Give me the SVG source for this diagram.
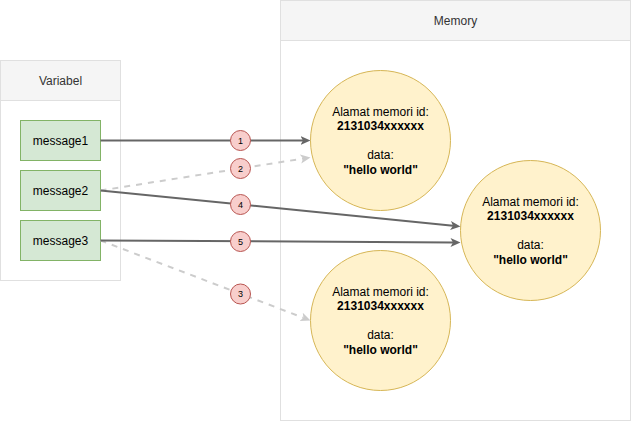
<svg xmlns="http://www.w3.org/2000/svg" width="631" height="421" viewBox="0 0 631 421">
<style>
  text { font-family: "Liberation Sans", Arial, sans-serif; }
  .hdr { fill: #f5f5f5; stroke: #e0e0e0; stroke-width: 1; }
  .body { fill: #ffffff; stroke: #e0e0e0; stroke-width: 1; }
  .htxt { font-size: 12px; fill: #333333; text-anchor: middle; }
  .var { fill: #d5e8d4; stroke: #82b366; stroke-width: 1; }
  .vtxt { font-size: 12px; fill: #000000; text-anchor: middle; }
  .mem { fill: #fff2cc; stroke: #d6b656; stroke-width: 1; }
  .mtxt { font-size: 12px; fill: #000000; text-anchor: middle; }
  .b { font-weight: bold; }
  .solid { fill: none; stroke: #666666; stroke-width: 2; marker-end: url(#arrDark); }
  .dash { fill: none; stroke: #cccccc; stroke-width: 2; stroke-dasharray: 6 6; marker-end: url(#arrLight); }
  .lbl { fill: #f8cecc; stroke: #b85450; stroke-width: 1; }
  .ltxt { font-size: 9px; fill: #000000; text-anchor: middle; }
</style>
<defs>
  <marker id="arrDark" markerUnits="userSpaceOnUse" markerWidth="12" markerHeight="10" refX="2.5" refY="5" orient="auto">
    <path d="M10,5 L0,0.5 L2.5,5 L0,9.5 Z" fill="#666666" stroke="none"/>
  </marker>
  <marker id="arrLight" markerUnits="userSpaceOnUse" markerWidth="12" markerHeight="10" refX="2.5" refY="5" orient="auto">
    <path d="M10,5 L0,0.5 L2.5,5 L0,9.5 Z" fill="#cccccc" stroke="none"/>
  </marker>
</defs>
<rect width="631" height="421" fill="#ffffff"/>

<g id="memory-container">
  <rect class="body" x="280.5" y="0.5" width="350" height="420"/>
  <rect class="hdr" x="280.5" y="0.5" width="350" height="40"/>
  <text class="htxt" x="455.5" y="24.5">Memory</text>
</g>

<g id="variabel-container">
  <rect class="body" x="0.5" y="60.5" width="120" height="220"/>
  <rect class="hdr" x="0.5" y="60.5" width="120" height="40"/>
  <text class="htxt" x="60.5" y="84.5">Variabel</text>
</g>

<g id="message1">
  <rect class="var" x="20.5" y="120.5" width="80" height="40"/>
  <text class="vtxt" x="60.5" y="144.5">message1</text>
</g>
<g id="message2">
  <rect class="var" x="20.5" y="170.5" width="80" height="40"/>
  <text class="vtxt" x="60.5" y="194.5">message2</text>
</g>
<g id="message3">
  <rect class="var" x="20.5" y="220.5" width="80" height="40"/>
  <text class="vtxt" x="60.5" y="244.5">message3</text>
</g>

<g id="mem1">
  <circle class="mem" cx="380.5" cy="140.5" r="70"/>
  <text class="mtxt" x="380.5" y="116">Alamat memori id:</text>
  <text class="mtxt b" x="380.5" y="130.4">2131034xxxxxx</text>
  <text class="mtxt" x="380.5" y="159.2">data:</text>
  <text class="mtxt b" x="380.5" y="173.6">"hello world"</text>
</g>
<g id="mem2">
  <circle class="mem" cx="530.5" cy="230.5" r="70"/>
  <text class="mtxt" x="530.5" y="206">Alamat memori id:</text>
  <text class="mtxt b" x="530.5" y="220.4">2131034xxxxxx</text>
  <text class="mtxt" x="530.5" y="249.2">data:</text>
  <text class="mtxt b" x="530.5" y="263.6">"hello world"</text>
</g>
<g id="mem3">
  <circle class="mem" cx="380.5" cy="320.5" r="70"/>
  <text class="mtxt" x="380.5" y="296">Alamat memori id:</text>
  <text class="mtxt b" x="380.5" y="310.4">2131034xxxxxx</text>
  <text class="mtxt" x="380.5" y="339.2">data:</text>
  <text class="mtxt b" x="380.5" y="353.6">"hello world"</text>
</g>

<g id="connectors">
  <line class="dash" x1="100.5" y1="190.5" x2="303.1" y2="158.6"/>
  <line class="dash" x1="100.5" y1="240.5" x2="303.5" y2="317.8"/>
  <line class="solid" x1="100.5" y1="140.5" x2="303" y2="140.5"/>
  <line class="solid" x1="100.5" y1="190.5" x2="453" y2="225.75"/>
  <line class="solid" x1="100.5" y1="240.5" x2="453" y2="242.4"/>

  <g id="label1"><circle class="lbl" cx="240.5" cy="140.5" r="10"/><text class="ltxt" x="240.5" y="143.7">1</text></g>
  <g id="label2"><circle class="lbl" cx="240.5" cy="168.5" r="10"/><text class="ltxt" x="240.5" y="171.7">2</text></g>
  <g id="label4"><circle class="lbl" cx="240.5" cy="204.5" r="10"/><text class="ltxt" x="240.5" y="207.7">4</text></g>
  <g id="label5"><circle class="lbl" cx="240.5" cy="241.5" r="10"/><text class="ltxt" x="240.5" y="244.7">5</text></g>
  <g id="label3"><circle class="lbl" cx="240.5" cy="294" r="10"/><text class="ltxt" x="240.5" y="297.2">3</text></g>
</g>
</svg>
